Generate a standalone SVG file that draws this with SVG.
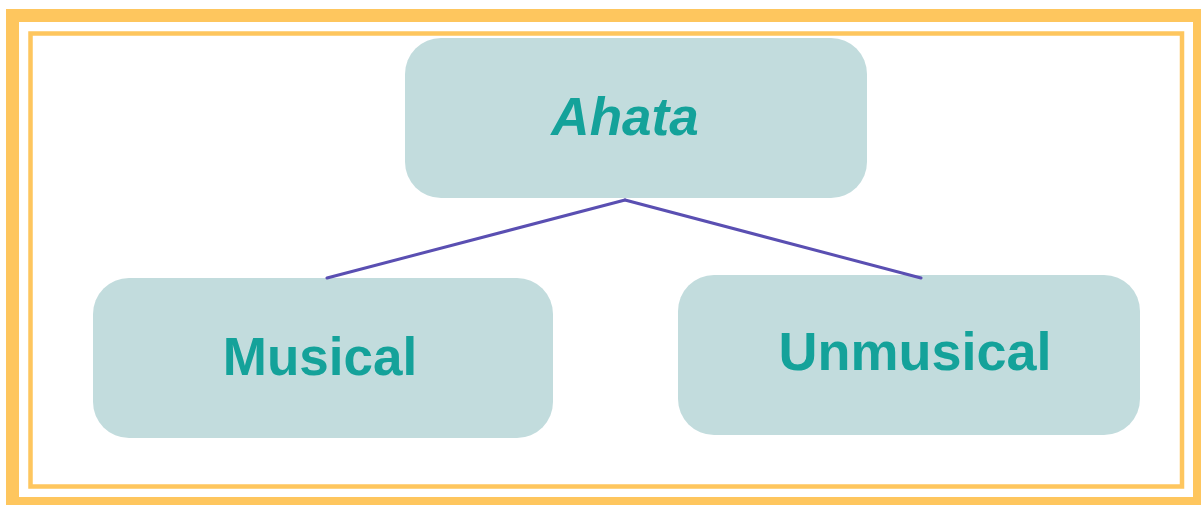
<svg xmlns="http://www.w3.org/2000/svg" width="1201" height="505" viewBox="0 0 1201 505">
  <style>
    .frame { fill: none; stroke: #FEC65E; }
    .node { fill: #C2DCDD; }
    .label { font-family: "Liberation Sans", Arial, sans-serif; font-weight: bold; fill: #14A29A; text-anchor: middle; }
    .conn { stroke: #5A4FB2; stroke-width: 3; fill: none; stroke-linecap: round; }
  </style>
  <rect width="1201" height="505" fill="#FFFFFF"/>
  <g id="frame">
    <rect class="frame" x="12.5" y="15.5" width="1187" height="488" stroke-width="13"/>
    <rect class="frame" x="30.5" y="33.5" width="1151.5" height="453" stroke-width="4.5"/>
  </g>
  <g id="node-ahata">
    <rect class="node" x="405" y="38" width="462" height="160" rx="36" ry="36"/>
    <text class="label" x="625" y="135" font-size="53" font-style="italic">Ahata</text>
  </g>
  <g id="node-musical">
    <rect class="node" x="93" y="278" width="460" height="160" rx="36" ry="36"/>
    <text class="label" x="320" y="375" font-size="53">Musical</text>
  </g>
  <g id="node-unmusical">
    <rect class="node" x="678" y="275" width="462" height="160" rx="36" ry="36"/>
    <text class="label" x="915" y="370" font-size="54">Unmusical</text>
  </g>
  <g id="connectors">
    <line class="conn" x1="625" y1="200" x2="327" y2="278"/>
    <line class="conn" x1="625" y1="200" x2="921" y2="278"/>
  </g>
</svg>
